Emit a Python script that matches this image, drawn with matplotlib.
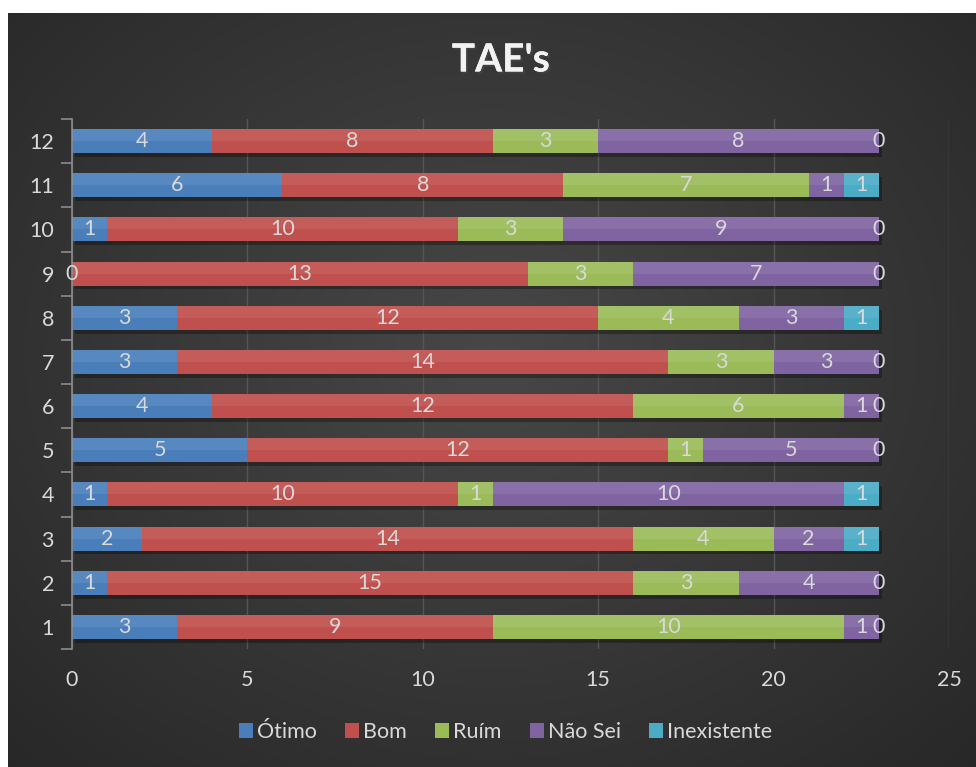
import matplotlib
matplotlib.use("Agg")
import matplotlib.pyplot as plt
import matplotlib.patheffects as pe
import numpy as np

# categories (bottom to top) and series values
categorias = ['1', '2', '3', '4', '5', '6', '7', '8', '9', '10', '11', '12']
otimo = [3, 1, 2, 1, 5, 4, 3, 3, 0, 1, 6, 4]
bom = [9, 15, 14, 10, 12, 12, 14, 12, 13, 10, 8, 8]
ruim = [10, 3, 4, 1, 1, 6, 3, 4, 3, 3, 7, 3]
nao_sei = [1, 4, 2, 10, 5, 1, 3, 3, 7, 9, 1, 8]
inexistente = [0, 0, 1, 1, 0, 0, 0, 1, 0, 0, 1, 0]

series = ['Ótimo', 'Bom', 'Ruím', 'Não Sei', 'Inexistente']
cores = ['#4a7ebb', '#c0504d', '#9bbb59', '#8064a2', '#4bacc6']

plt.rcParams['font.family'] = ['Lato', 'DejaVu Sans']
txt = '#d9d9d9'

fig = plt.figure(figsize=(9.76, 7.67), dpi=100)
fig.patch.set_facecolor('white')

# dark radial background (white margin top/left like the reference)
bg = fig.add_axes([8 / 976, 0, 1 - 8 / 976, 1 - 13 / 767])
yy, xx = np.mgrid[0:1:300j, 0:1:380j]
r = np.sqrt(((xx - 0.5) / 0.75) ** 2 + ((yy - 0.45) / 0.8) ** 2)
val = np.clip(0.28 - 0.13 * r, 0.14, 0.28)
bg.imshow(np.dstack([val, val, val]), aspect='auto', extent=[0, 1, 0, 1])
bg.axis('off')

ax = fig.add_axes([72 / 976, 1 - 649 / 767, (949 - 72) / 976, (649 - 119) / 767])
ax.patch.set_alpha(0)

y = np.arange(len(categorias)) + 1
dados = [otimo, bom, ruim, nao_sei, inexistente]
total = np.sum(dados, axis=0)
h = 0.54

# shadow under the bars
ax.barh(y - 0.09, total, height=h, left=0.08, color='black', alpha=0.3, zorder=1)

esq = np.zeros(len(y))
for nome, vals, cor in zip(series, dados, cores):
    vals = np.array(vals)
    ax.barh(y, vals, height=h, left=esq, color=cor, label=nome, zorder=2)
    # lighter top half for a bit of gradient
    ax.barh(y + h / 4, vals, height=h / 2, left=esq, color='white', alpha=0.08, zorder=3)
    for yi, l, v in zip(y, esq, vals):
        ax.text(l + v / 2, yi, str(v), ha='center', va='center', color=txt,
                fontsize=15.5, zorder=4)
    esq = esq + vals

ax.set_xlim(0, 25)
ax.set_ylim(0.5, 12.5)
ax.set_xticks([0, 5, 10, 15, 20, 25])
ax.set_yticks(y)
ax.set_yticklabels(categorias)
ax.set_yticks(np.arange(0.5, 13, 1), minor=True)
ax.tick_params(axis='y', which='major', length=0, pad=13, labelcolor=txt, labelsize=15.5)
ax.tick_params(axis='y', which='minor', length=8, color='#8c8c8c', width=1.2)
ax.tick_params(axis='x', length=0, pad=15, labelcolor=txt, labelsize=15.5)
ax.grid(axis='x', color='#555555', linewidth=1, zorder=0)
ax.set_axisbelow(True)
for s in ['top', 'right', 'bottom']:
    ax.spines[s].set_visible(False)
ax.spines['left'].set_color('#8c8c8c')
ax.spines['left'].set_linewidth(1.2)

fig.text(0.513, 1 - 60 / 767, "TAE's", ha='center', va='center', fontsize=28,
         fontweight='bold', color='#f2f2f2',
         path_effects=[pe.withSimplePatchShadow(offset=(1.5, -1.5), alpha=0.6),
                       pe.Normal()])

leg = fig.legend(loc='center', bbox_to_anchor=(0.518, 1 - 732 / 767), ncol=5,
                 frameon=False, fontsize=15.5, handlelength=0.65, handleheight=0.65,
                 handletextpad=0.2, columnspacing=1.3, labelcolor=txt)

fig.savefig('out.png', dpi=100, facecolor=fig.get_facecolor())
